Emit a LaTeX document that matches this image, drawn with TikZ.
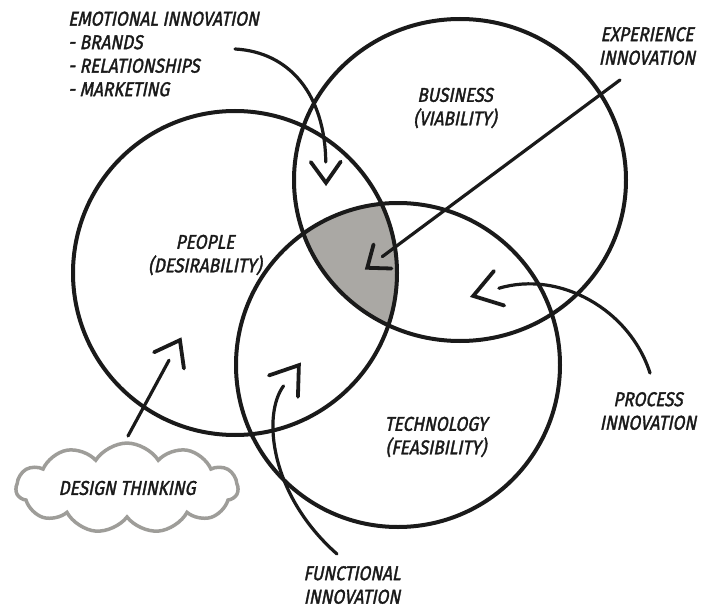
\documentclass[tikz,border=0pt]{standalone}
\usepackage{fontspec}
\newfontfamily\hand[FakeSlant=0.2,FakeStretch=0.86,FakeBold=1.6]{Fira Sans}
\usetikzlibrary{shapes.symbols,decorations.markings}
\definecolor{ink}{RGB}{26,26,26}
\definecolor{overlap}{RGB}{170,168,164}
\definecolor{puff}{RGB}{158,157,153}
\tikzset{
  ring/.style={draw=ink, line width=4pt},
  lbl/.style={font=\hand\fontsize{20}{23.5}\selectfont, text=ink, align=center, inner sep=0pt},
  flow/.style={draw=ink, line width=3.2pt, line cap=round},
  chev/.style n args={2}{shorten >=#1pt, postaction={decorate, decoration={markings,
      mark=at position 0.999 with {\draw[ink, line width=3.8pt, shorten >=0pt, shorten <=0pt,
        line cap=round, line join=miter] (-#1pt,#2pt) -- (0pt,0pt) -- (-#1pt,-#2pt);}}}}
}
\begin{document}
\begin{tikzpicture}[x=1pt, y=-1pt]
\useasboundingbox (0,0) rectangle (702,610);

% the three sets
\def\people{(235,273) circle [radius=162]}
\def\business{(460,180) ellipse [x radius=166, y radius=161]}
\def\technology{(398,365) circle [radius=162]}

% shared area of all three
\begin{scope}
  \clip \people;
  \clip \business;
  \fill[overlap] \technology;
\end{scope}

\draw[ring] \people;
\draw[ring] \business;
\draw[ring] \technology;

% set captions
\node[lbl] (ppl) at (205,255) {PEOPLE\\(DESIRABILITY)};
\node[lbl] (bus) at (455,108) {BUSINESS\\(VIABILITY)};
\node[lbl] (tec) at (436,437) {TECHNOLOGY\\(FEASIBILITY)};

% innovation labels
\node[lbl, align=left, anchor=west] (emo) at (68,54)
  {EMOTIONAL INNOVATION\\- BRANDS\\- RELATIONSHIPS\\- MARKETING};
\node[lbl] (exp) at (647,46) {EXPERIENCE\\INNOVATION};
\node[lbl] (pro) at (648,411) {PROCESS\\INNOVATION};
\node[lbl] (fun) at (352,585) {FUNCTIONAL\\INNOVATION};
\node[lbl, cloud, draw=puff, line width=3.5pt, cloud puffs=11, cloud puff arc=115, aspect=3.1,
      minimum width=222, minimum height=80] (dt) at (127,488) {DESIGN THINKING};

% arrow ends
\coordinate (emoS) at (235,49);
\coordinate (emoE) at (326,183);
\coordinate (expS) at (620,80);
\coordinate (expE) at (367,268);
\coordinate (proS) at (650,373);
\coordinate (proE) at (473,296);
\coordinate (funS) at (337,554);
\coordinate (funE) at (299,365);
\coordinate (dtS) at (128,436);
\coordinate (dtE) at (180,340);

% arrows
\draw[flow, chev={21}{15}] (emoS) .. controls (290,52) and (325,95) .. (emoE);
\draw[flow, chev={19}{15}] (expS) -- (expE);
\draw[flow, chev={27}{18}] (proS) .. controls (630,310) and (560,270) .. (proE);
\draw[flow, chev={26}{18}] (funS) .. controls (270,495) and (262,415) .. (funE);
\draw[flow, chev={23}{17}] (dtS) -- (dtE);
\end{tikzpicture}
\end{document}
